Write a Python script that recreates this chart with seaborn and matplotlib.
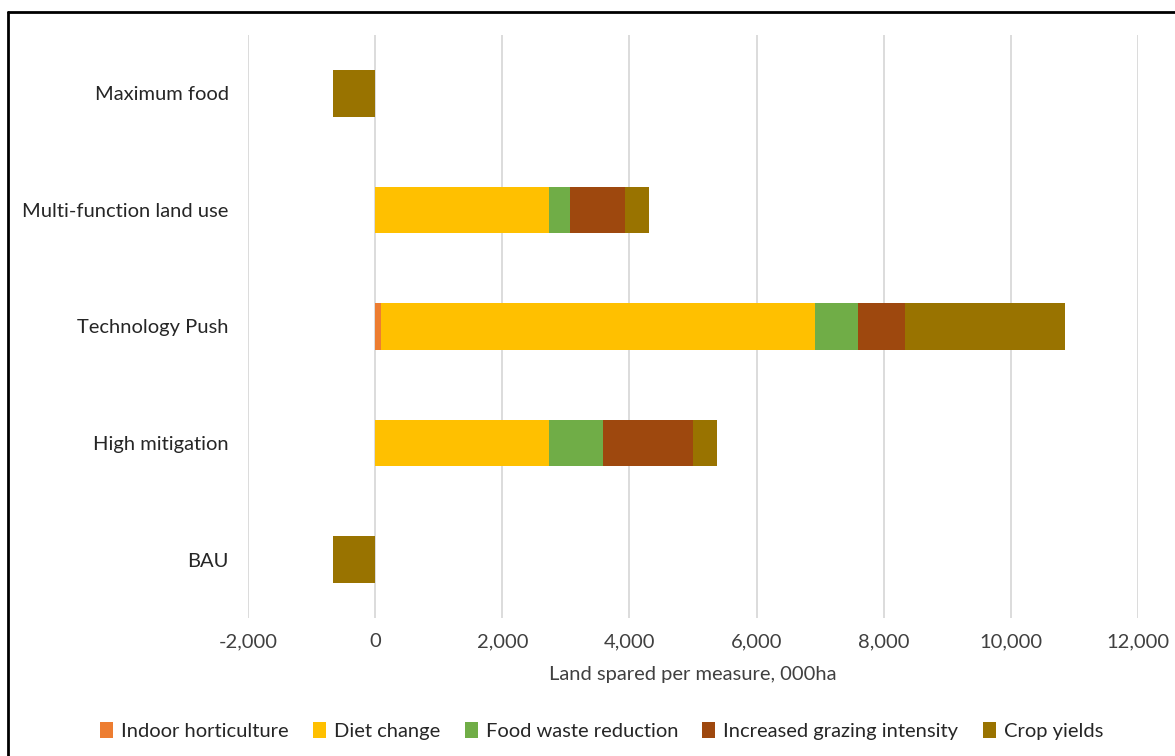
import matplotlib
matplotlib.use("Agg")
import matplotlib.pyplot as plt
from matplotlib.patches import Patch
from matplotlib.lines import Line2D
from matplotlib.ticker import FuncFormatter
import numpy as np
import pandas as pd
import seaborn as sns

scenarios = ["Maximum food", "Multi-function land use", "Technology Push",
             "High mitigation", "BAU"]
series_names = ["Indoor horticulture", "Diet change", "Food waste reduction",
                "Increased grazing intensity", "Crop yields"]
indoor = [0, 0, 95, 0, 0]
diet = [0, 2740, 6823, 2740, 0]
waste = [0, 326, 672, 845, 0]
grazing = [0, 864, 748, 1410, 0]
crop = [-660, 383, 2516, 387, -660]
colors = ["#ED7D31", "#FFC000", "#70AD47", "#9E480E", "#997300"]
xticks = [-2000, 0, 2000, 4000, 6000, 8000, 10000, 12000]

sns.set_theme(style="white")
plt.rcParams["font.family"] = ["Lato", "DejaVu Sans"]

fig = plt.figure(figsize=(11.75, 7.56), dpi=100)
ax = fig.add_axes([248 / 1175, 1 - 618 / 756, (1138 - 248) / 1175, (618 - 35) / 756])

series = [indoor, diet, waste, grazing, crop]
cum = np.cumsum(np.array(series, dtype=float), axis=0)
# draw from outermost cumulative to innermost so stacks appear
for i in range(len(series) - 1, -1, -1):
    df = pd.DataFrame({"scenario": scenarios, "value": cum[i]})
    sns.barplot(data=df, x="value", y="scenario", orient="h", color=colors[i],
                width=0.4, saturation=1, ax=ax, zorder=3, edgecolor="none")

fs = 14.5
ax.set_xlim(-2000, 12000)
ax.set_xticks(xticks)
ax.xaxis.set_major_formatter(FuncFormatter(lambda v, p: f"{int(v):,}"))
ax.grid(axis="x", color="#D9D9D9", linewidth=1.3, zorder=0)
ax.grid(axis="y", visible=False)
for s in ax.spines.values():
    s.set_visible(False)
ax.tick_params(axis="both", length=0, labelsize=fs, colors="#262626")
ax.tick_params(axis="y", pad=14)
ax.tick_params(axis="x", pad=11, colors="#404040")
ax.set_ylabel("")
ax.set_xlabel("Land spared per measure, 000ha", fontsize=fs, color="#404040", labelpad=11)

handles = [Patch(facecolor=c, edgecolor="none", label=n) for c, n in zip(colors, series_names)]
fig.legend(handles=handles, loc="center", bbox_to_anchor=(0.512, 1 - 731 / 756), ncol=5,
           frameon=False, fontsize=fs, handlelength=0.65, handleheight=0.85,
           handletextpad=0.4, columnspacing=1.2, labelcolor="#262626")

# outer frame (left and top edges)
fig.add_artist(Line2D([8 / 1175, 8 / 1175], [0, 1 - 12 / 756], transform=fig.transFigure,
                      color="black", linewidth=2))
fig.add_artist(Line2D([8 / 1175, 1], [1 - 12 / 756, 1 - 12 / 756], transform=fig.transFigure,
                      color="black", linewidth=2))

fig.savefig("out.png", dpi=100)
